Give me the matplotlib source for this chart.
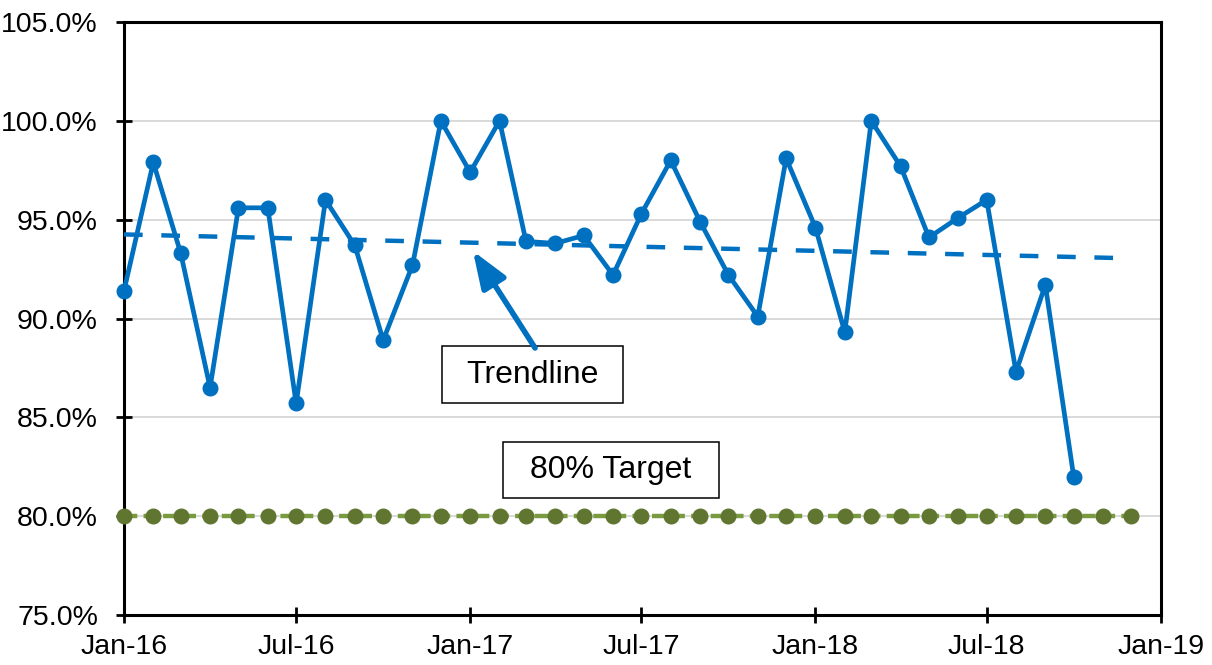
import matplotlib
matplotlib.use("Agg")
import matplotlib.dates as mdates
import matplotlib.pyplot as plt
import numpy as np
import pandas as pd
from matplotlib.patches import Rectangle
from matplotlib.ticker import MultipleLocator, PercentFormatter

plt.rcParams["font.family"] = ["Liberation Sans", "DejaVu Sans"]

# Monthly data, Jan-16 .. Dec-18
months = pd.date_range("2016-01-01", "2018-12-01", freq="MS")
compliance = [
    91.4, 97.9, 93.3, 86.5, 95.6, 95.6, 85.7, 96.0, 93.7, 88.9, 92.7, 100.0,
    97.4, 100.0, 93.9, 93.8, 94.2, 92.2, 95.3, 98.0, 94.9, 92.2, 90.1, 98.1,
    94.6, 89.3, 100.0, 97.7, 94.1, 95.1, 96.0, 87.3, 91.7, 82.0,
]
target_pct = 80.0
target = [target_pct] * len(months)

# Linear trendline, forecast forward to the end of the target series
idx = np.arange(len(compliance))
slope, intercept = np.polyfit(idx, compliance, 1)
trend = intercept + slope * np.arange(len(months))

blue = "#0070C0"
green_line = "#7A9A40"
green_marker = "#5F7530"

fig = plt.figure(figsize=(12.12, 6.65), dpi=100)
ax = fig.add_axes([0.1023, 0.0752, 0.8554, 0.8917])

ax.yaxis.grid(True, color="#D9D9D9", lw=1.4)
ax.set_axisbelow(True)

ax.plot(months, target, color=green_line, lw=3.2, ls=(0, (3, 1.4)),
        marker="o", ms=10.5, mfc=green_marker, mec=green_marker,
        clip_on=False, zorder=3)
ax.plot(months[:len(compliance)], compliance, color=blue, lw=3.4,
        marker="o", ms=10.5, clip_on=False, zorder=4)
ax.plot(months, trend, color=blue, lw=3.2, ls=(0, (4.2, 4.2)), zorder=5)

ax.set_xlim(pd.Timestamp("2016-01-01"), pd.Timestamp("2019-01-01"))
ax.set_ylim(75, 105)
ax.yaxis.set_major_locator(MultipleLocator(5))
ax.yaxis.set_major_formatter(PercentFormatter(decimals=1))
ax.xaxis.set_major_locator(mdates.MonthLocator(bymonth=[1, 7]))
ax.xaxis.set_major_formatter(mdates.DateFormatter("%b-%y"))

for s in ax.spines.values():
    s.set_linewidth(2.2)
    s.set_color("black")
ax.tick_params(direction="inout", length=11.5, width=2.0, labelsize=20.5)
ax.tick_params(axis="y", pad=13)
ax.tick_params(axis="x", pad=8)

# Callout boxes
ax.add_patch(Rectangle((0.307, 0.357), 0.174, 0.0971, transform=ax.transAxes,
                       fc="white", ec="black", lw=1.1, zorder=6))
ax.text(0.394, 0.4055, "Trendline", transform=ax.transAxes, fontsize=23,
        ha="center", va="center", zorder=7)
ax.add_patch(Rectangle((0.3653, 0.1968), 0.2084, 0.0954, transform=ax.transAxes,
                       fc="white", ec="black", lw=1.1, zorder=6))
ax.text(0.4695, 0.2445, "80% Target", transform=ax.transAxes, fontsize=23,
        ha="center", va="center", zorder=7)

ax.annotate("", xy=(0.3366, 0.6138), xycoords="axes fraction",
            xytext=(0.3965, 0.4503), textcoords="axes fraction",
            arrowprops=dict(arrowstyle="-|>,head_length=0.8,head_width=0.3",
                            mutation_scale=28, color=blue, lw=4.0,
                            shrinkA=0, shrinkB=0),
            zorder=7)

fig.savefig("out.png", dpi=100)
